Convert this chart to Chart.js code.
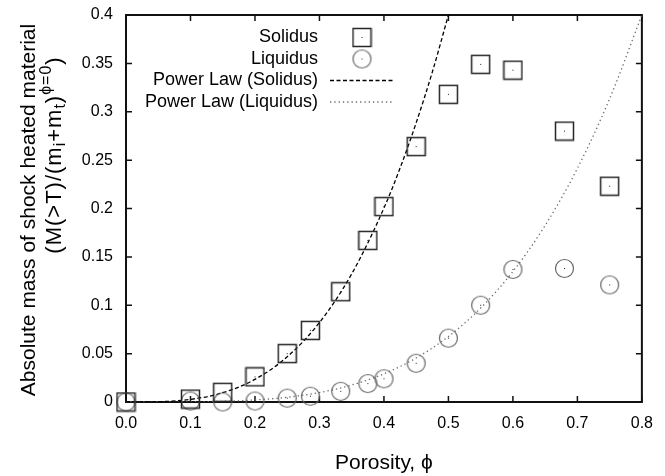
<!DOCTYPE html>
<html>
<head>
<meta charset="utf-8">
<script src="https://cdn.jsdelivr.net/npm/chart.js@4.4.1/dist/chart.umd.min.js"></script>
<style>
  html, body { margin: 0; padding: 0; background: #fff; }
  #wrap { width: 665px; height: 476px; }
</style>
</head>
<body>
<div id="wrap"><canvas id="porosityChart" width="665" height="476"></canvas></div>
<script>
const FONT = '"Liberation Sans", Arial, Helvetica, sans-serif';

// measured points
const solidusPhi = [0, 0.1, 0.15, 0.2, 0.25, 0.286, 0.333, 0.375, 0.4, 0.45, 0.5, 0.55, 0.6, 0.68, 0.75];
const solidusMass = [0, 0.003, 0.010, 0.026, 0.050, 0.074, 0.114, 0.167, 0.202, 0.264, 0.318, 0.349, 0.343, 0.280, 0.223];
const liquidusPhi = [0, 0.1, 0.15, 0.2, 0.25, 0.286, 0.333, 0.375, 0.4, 0.45, 0.5, 0.55, 0.6, 0.68, 0.75];
const liquidusMass = [0, 0.001, 0.0, 0.001, 0.004, 0.006, 0.011, 0.019, 0.024, 0.040, 0.066, 0.100, 0.137, 0.138, 0.121];

// power law fits, sampled along the curves
const solidusFitPhi = [0, 0.05, 0.1, 0.15, 0.2, 0.25, 0.3, 0.35, 0.4, 0.425, 0.45, 0.475, 0.5];
const solidusFitMass = [0, 0.0003, 0.0027, 0.0096, 0.0234, 0.0467, 0.0821, 0.1324, 0.2004, 0.2418, 0.2886, 0.341, 0.4];
const liquidusFitPhi = [0, 0.1, 0.2, 0.25, 0.3, 0.35, 0.4, 0.45, 0.5, 0.55, 0.6, 0.65, 0.7, 0.75, 0.8];
const liquidusFitMass = [0, 0.0002, 0.0021, 0.0049, 0.0098, 0.0176, 0.0291, 0.0455, 0.0677, 0.0971, 0.1349, 0.1825, 0.2415, 0.3134, 0.4];

const xTickValues = [0, 0.1, 0.2, 0.3, 0.4, 0.5, 0.6, 0.7, 0.8];
const xTickLabels = ['0.0', '0.1', '0.2', '0.3', '0.4', '0.5', '0.6', '0.7', '0.8'];
const yTickValues = [0, 0.05, 0.1, 0.15, 0.2, 0.25, 0.3, 0.35, 0.4];
const yTickLabels = ['0', '0.05', '0.1', '0.15', '0.2', '0.25', '0.3', '0.35', '0.4'];

const seriesLabels = ['Solidus', 'Liquidus', 'Power Law (Solidus)', 'Power Law (Liquidus)'];

function toPoints(xs, ys) {
  return xs.map((x, i) => ({ x: x, y: ys[i] }));
}

// open marker with a small dot in the middle
function makeMarker(shape, color, width) {
  const c = document.createElement('canvas');
  c.width = 21;
  c.height = 21;
  const g = c.getContext('2d');
  g.strokeStyle = color;
  g.lineWidth = width;
  if (shape === 'square') {
    g.strokeRect(1.5, 1.5, 18, 18);
  } else {
    g.beginPath();
    g.arc(10.5, 10.5, 9, 0, Math.PI * 2);
    g.stroke();
  }
  g.fillStyle = '#222';
  g.fillRect(10, 10, 1, 1);
  return c;
}

const squareMarker = makeMarker('square', '#262626', 1.5);
const circleMarker = makeMarker('circle', '#666', 1.2);

// border on all four sides with inward ticks
const framePlugin = {
  id: 'frame',
  beforeDatasetsDraw(chart) {
    const { ctx, chartArea: a, scales } = chart;
    ctx.save();
    ctx.strokeStyle = '#111';
    ctx.lineWidth = 1.5;
    ctx.beginPath();
    xTickValues.forEach(v => {
      const px = scales.x.getPixelForValue(v);
      ctx.moveTo(px, a.bottom);
      ctx.lineTo(px, a.bottom - 6);
      ctx.moveTo(px, a.top);
      ctx.lineTo(px, a.top + 6);
    });
    yTickValues.forEach(v => {
      const py = scales.y.getPixelForValue(v);
      ctx.moveTo(a.left, py);
      ctx.lineTo(a.left + 6, py);
      ctx.moveTo(a.right, py);
      ctx.lineTo(a.right - 6, py);
    });
    ctx.stroke();
    ctx.lineWidth = 2;
    ctx.strokeRect(a.left, a.top, a.right - a.left, a.bottom - a.top);
    ctx.restore();
  }
};

// key in the top left of the plot, text right-aligned with its sample to the right
const keyPlugin = {
  id: 'key',
  afterDatasetsDraw(chart) {
    const { ctx, chartArea: a } = chart;
    ctx.save();
    ctx.font = '18px ' + FONT;
    ctx.fillStyle = '#000';
    ctx.textAlign = 'right';
    ctx.textBaseline = 'middle';
    chart.data.datasets.forEach((ds, i) => {
      const y = a.top + 22.5 + i * 21.5;
      ctx.fillText(ds.label, 318, y);
      if (ds.showLine) {
        ctx.save();
        ctx.strokeStyle = ds.borderColor;
        ctx.lineWidth = ds.borderWidth;
        ctx.setLineDash(ds.borderDash);
        ctx.beginPath();
        ctx.moveTo(330, y);
        ctx.lineTo(393, y);
        ctx.stroke();
        ctx.restore();
      } else {
        const m = ds.pointStyle;
        ctx.drawImage(m, 362 - m.width / 2, y - m.height / 2);
      }
    });
    ctx.restore();
  }
};

// two-line y title, second line with sub- and superscripts
const yTitlePlugin = {
  id: 'yTitle',
  afterDraw(chart) {
    const ctx = chart.ctx;
    ctx.save();
    ctx.fillStyle = '#000';
    ctx.textBaseline = 'alphabetic';
    ctx.translate(35, 210);
    ctx.rotate(-Math.PI / 2);
    ctx.font = '21px ' + FONT;
    ctx.textAlign = 'center';
    ctx.fillText('Absolute mass of shock heated material', 0, 0);
    ctx.restore();

    const runs = [
      { t: '(M(>T)/(m', s: 0 },
      { t: 'i', s: -1 },
      { t: '+m', s: 0 },
      { t: 't', s: -1 },
      { t: ')', s: 0 },
      { t: '\u03D5=0', s: 1 },
      { t: ')', s: 0 }
    ];
    const fontFor = r => (r.s === 0 ? '22px ' : '16px ') + FONT;
    ctx.save();
    ctx.fillStyle = '#000';
    ctx.textAlign = 'left';
    ctx.textBaseline = 'alphabetic';
    let total = 0;
    runs.forEach(r => { ctx.font = fontFor(r); r.w = ctx.measureText(r.t).width + r.t.length; total += r.w; });
    ctx.translate(61, 155);
    ctx.rotate(-Math.PI / 2);
    let u = -total / 2;
    runs.forEach(r => {
      ctx.font = fontFor(r);
      const v = r.s === 0 ? 0 : (r.s < 0 ? 4 : -10);
      let x = u;
      for (const ch of r.t) {
        ctx.fillText(ch, x, v);
        x += ctx.measureText(ch).width + 1;
      }
      u += r.w;
    });
    ctx.restore();
  }
};

const ctx = document.getElementById('porosityChart').getContext('2d');

new Chart(ctx, {
  type: 'scatter',
  data: {
    datasets: [
      {
        label: seriesLabels[0],
        data: toPoints(solidusPhi, solidusMass),
        pointStyle: squareMarker,
        pointRadius: 10,
        showLine: false,
        clip: false
      },
      {
        label: seriesLabels[1],
        data: toPoints(liquidusPhi, liquidusMass),
        pointStyle: circleMarker,
        pointRadius: 10,
        showLine: false,
        clip: false
      },
      {
        label: seriesLabels[2],
        data: toPoints(solidusFitPhi, solidusFitMass),
        showLine: true,
        pointRadius: 0,
        borderColor: '#000',
        borderWidth: 1.3,
        borderDash: [4, 2.5],
        cubicInterpolationMode: 'monotone'
      },
      {
        label: seriesLabels[3],
        data: toPoints(liquidusFitPhi, liquidusFitMass),
        showLine: true,
        pointRadius: 0,
        borderColor: '#6a6a6a',
        borderWidth: 1.3,
        borderDash: [1.3, 3],
        cubicInterpolationMode: 'monotone'
      }
    ]
  },
  options: {
    responsive: false,
    animation: false,
    devicePixelRatio: 1,
    layout: { padding: { top: 15, right: 23, bottom: 0, left: 0 } },
    plugins: {
      legend: { display: false },
      tooltip: { enabled: false }
    },
    scales: {
      x: {
        type: 'linear',
        min: 0,
        max: 0.8,
        afterBuildTicks: axis => { axis.ticks = xTickValues.map(v => ({ value: v })); },
        afterFit: axis => { axis.height = 74; },
        ticks: {
          callback: (v, i) => xTickLabels[i],
          font: { family: FONT, size: 16 },
          color: '#000',
          padding: 12,
          maxRotation: 0,
          autoSkip: false
        },
        grid: { display: false, drawTicks: false },
        border: { display: false },
        title: {
          display: true,
          text: 'Porosity, \u03D5',
          font: { family: FONT, size: 21 },
          color: '#000',
          padding: { top: 0, bottom: 0 }
        }
      },
      y: {
        type: 'linear',
        min: 0,
        max: 0.4,
        afterBuildTicks: axis => { axis.ticks = yTickValues.map(v => ({ value: v })); },
        afterFit: axis => {
          axis.width = 126;
          axis.paddingTop = 0;
          axis.paddingBottom = 0;
        },
        ticks: {
          callback: (v, i) => yTickLabels[i],
          font: { family: FONT, size: 16 },
          color: '#000',
          padding: 13,
          autoSkip: false
        },
        grid: { display: false, drawTicks: false },
        border: { display: false }
      }
    }
  },
  plugins: [framePlugin, keyPlugin, yTitlePlugin]
});
</script>
</body>
</html>
